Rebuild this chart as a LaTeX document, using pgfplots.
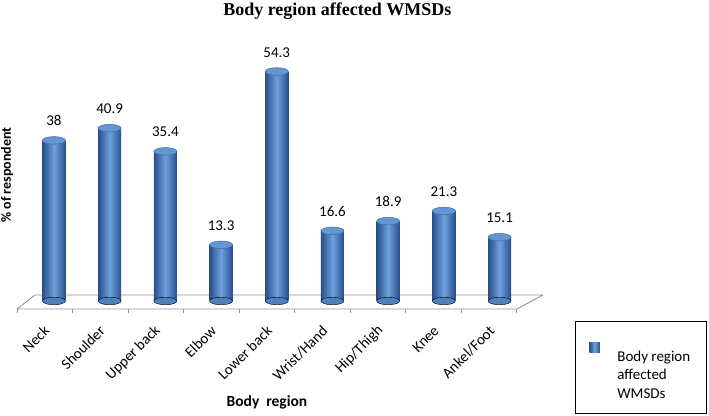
\documentclass[border=0pt]{standalone}
\usepackage{pgfplots}
\pgfplotsset{compat=1.18}
\usepackage{fontspec}
\setmainfont{Carlito}
\newfontfamily\titlefont{Liberation Serif}
\definecolor{bardark}{RGB}{40,78,140}
\definecolor{barlight}{RGB}{112,160,222}
\definecolor{barmid}{RGB}{79,129,189}
\definecolor{toptop}{RGB}{100,150,212}
\definecolor{topedge}{RGB}{62,106,170}
\definecolor{floorgray}{RGB}{150,150,150}
\pgfplotsset{
  cyl/.style={ybar, bar width=23bp, bar shift=0pt, draw=none,
    left color=bardark, right color=bardark, middle color=barlight},
}
\begin{document}
\begin{tikzpicture}
\begin{axis}[
  name=ax,
  scale only axis, width=537.5bp, height=252.9bp,
  xmin=-0.75, xmax=8.9, ymin=-2.84, ymax=57,
  clip=false,
  axis line style={draw=none},
  ytick=\empty,
  xtick={-0.09,0.91,1.91,2.91,3.91,4.91,5.91,6.91,7.91},
  xticklabels={Neck,Shoulder,Upper back,Elbow,Lower back,Wrist/Hand,Hip/Thigh,Knee,Ankel/Foot},
  major tick length=0pt,
  xticklabel style={rotate=45, anchor=east, font=\fontsize{15bp}{18bp}\selectfont},
  xticklabel shift=13bp,
  title={Body region affected WMSDs},
  title style={font=\titlefont\bfseries\fontsize{18bp}{20bp}\selectfont, at={(axis description cs:0.605,1)}, anchor=base, yshift=38.5bp},
  ylabel={\% of respondent},
  ylabel style={font=\bfseries\fontsize{14bp}{16bp}\selectfont, at={(axis description cs:-0.00967,0.546)}, anchor=center},
  xlabel={Body\ \ region},
  xlabel style={font=\bfseries\fontsize{15.5bp}{18bp}\selectfont, at={(axis description cs:0.474,0)}, anchor=base, yshift=-93bp},
  legend style={at={(1.047,-0.0316)}, anchor=north west, draw=black, line width=0.8bp,
    font=\fontsize{15bp}{18.5bp}\selectfont, inner xsep=14bp, inner ysep=12bp,
    cells={align=left, inner xsep=0pt}},
  /pgf/number format/assume math mode=true,
]
% floor
\addplot[draw=floorgray, line width=0.9bp, fill=white, line join=round, forget plot]
  coordinates {(-0.664,-1.9) (8.31,-1.9) (8.78,1.42) (-0.341,1.42) (-0.664,-1.9)};
\addplot[draw=floorgray, line width=0.9bp, forget plot, unbounded coords=jump]
  coordinates {(-0.664,-1.9) (-0.664,-2.84) (-0.664,nan)
               (0.334,-1.9) (0.334,-2.84) (0.334,nan)
               (1.331,-1.9) (1.331,-2.84) (1.331,nan)
               (2.329,-1.9) (2.329,-2.84) (2.329,nan)
               (3.326,-1.9) (3.326,-2.84) (3.326,nan)
               (4.324,-1.9) (4.324,-2.84) (4.324,nan)
               (5.321,-1.9) (5.321,-2.84) (5.321,nan)
               (6.319,-1.9) (6.319,-2.84) (6.319,nan)
               (7.316,-1.9) (7.316,-2.84) (7.316,nan)
               (8.31,-1.9) (8.31,-2.84)};
% bottom ellipses
\addplot[only marks, mark=*, mark size=11.5bp, forget plot,
  mark options={yscale=0.33, draw=none, fill=barmid}]
  coordinates {(0,0) (1,0) (2,0) (3,0) (4,0) (5,0) (6,0) (7,0) (8,0)};
% bars (one plot per bar so each gets its own cylinder shading)
\addplot[cyl, legend image code/.code={\fill[barmid] (0bp,23bp) rectangle (10.5bp,33bp); \path (0bp,42bp) (26bp,0bp);}]
  coordinates {(0,38)};
\addlegendentry{Body region\\affected\\WMSDs}
\addplot[cyl, forget plot] coordinates {(1,40.9)};
\addplot[cyl, forget plot] coordinates {(2,35.4)};
\addplot[cyl, forget plot] coordinates {(3,13.3)};
\addplot[cyl, forget plot] coordinates {(4,54.3)};
\addplot[cyl, forget plot] coordinates {(5,16.6)};
\addplot[cyl, forget plot] coordinates {(6,18.9)};
\addplot[cyl, forget plot] coordinates {(7,21.3)};
\addplot[cyl, forget plot] coordinates {(8,15.1)};
% tops
\addplot[only marks, mark=*, mark size=11.5bp, forget plot,
  mark options={yscale=0.33, draw=topedge, line width=0.5bp, fill=toptop},
  nodes near coords,
  every node near coord/.append style={font=\fontsize{15bp}{18bp}\selectfont, text=black, anchor=base, yshift=14.5bp}]
  coordinates {(0,38) (1,40.9) (2,35.4) (3,13.3) (4,54.3) (5,16.6) (6,18.9) (7,21.3) (8,15.1)};
\end{axis}
\pgfresetboundingbox
\path (ax.south west) ++(-12.2bp,-103bp) rectangle ++(709bp,416bp);
\end{tikzpicture}
\end{document}
